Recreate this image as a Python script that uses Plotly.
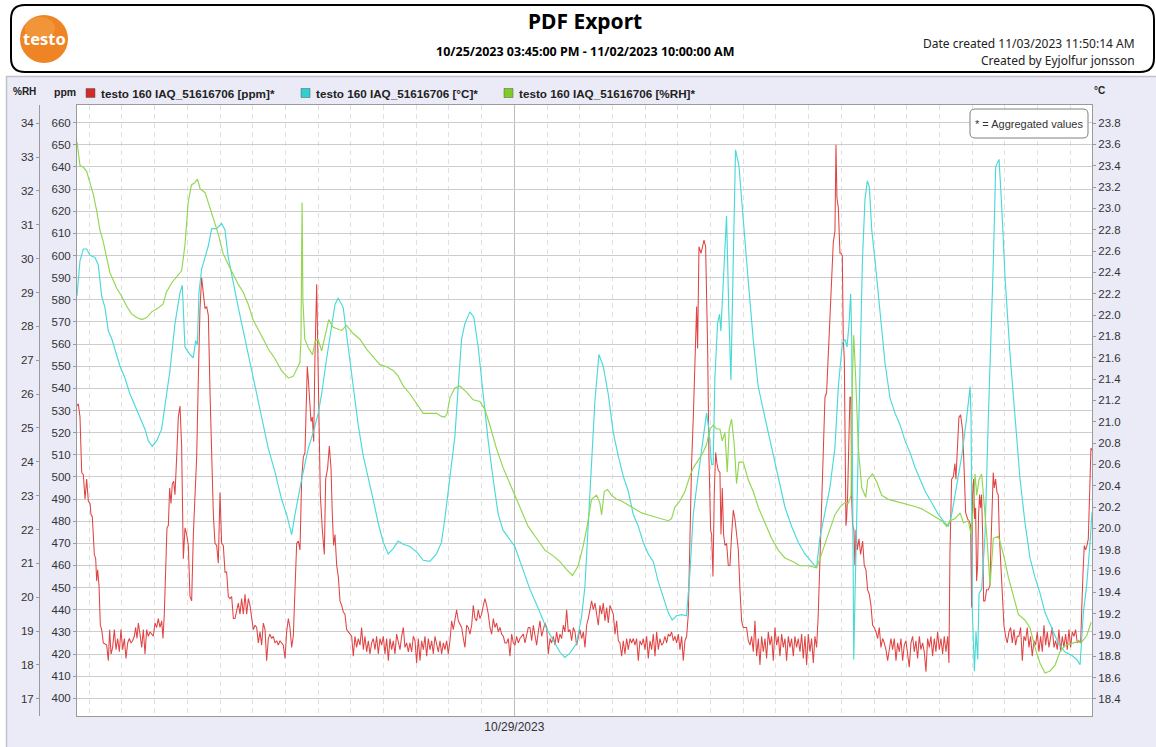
import pandas as pd
import plotly.graph_objects as go

# ---------------- data ----------------
START = pd.Timestamp("2023-10-25 15:45:00")
END = pd.Timestamp("2023-11-02 10:00:00")
LABEL_DAY = pd.Timestamp("2023-10-29 00:00:00")

series_names = ["testo 160 IAQ_51616706 [ppm]*",
                "testo 160 IAQ_51616706 [°C]*",
                "testo 160 IAQ_51616706 [%RH]*"]
series_colors = ["#e14444", "#4ad9d9", "#92d650"]
legend_colors = ["#d42a2a", "#2fd0d0", "#7fcc22"]

ppm_ticks = list(range(400, 661, 10))
temp_ticks = [18.4, 18.6, 18.8, 19.0, 19.2, 19.4, 19.6, 19.8, 20.0, 20.2, 20.4, 20.6, 20.8, 21.0,
              21.2, 21.4, 21.6, 21.8, 22.0, 22.2, 22.4, 22.6, 22.8, 23.0, 23.2, 23.4, 23.6, 23.8]
rh_ticks = [17, 18, 19, 20, 21, 22, 23, 24, 25, 26, 27, 28, 29, 30, 31, 32, 33, 34]

# (hours since start, ppm)
co2_data = [
    (0.00,532),(0.24,533),(0.55,527),(0.86,502),(1.16,501),(1.47,490),(1.77,499),(2.08,489),(2.39,488),(2.57,483),
    (2.81,482),(3.18,465),(3.43,463),(3.61,453),(3.79,458),(4.04,451),(4.28,433),(4.53,431),(4.83,425),(5.44,424),
    (5.75,417),(5.99,431),(6.24,420),(6.54,423),(6.85,431),(7.16,422),(7.46,427),(7.77,421),(8.07,431),(8.38,422),
    (8.69,427),(8.99,418),(9.30,425),(9.60,427),(9.91,425),(10.21,426),(10.52,428),(10.76,432),(11.01,427),(11.25,434),
    (11.56,429),(11.87,423),(12.17,431),(12.48,420),(12.78,431),(13.09,428),(13.39,430),(13.70,429),(14.01,428),(14.31,434),
    (14.62,432),(14.92,436),(15.23,432),(15.54,435),(15.78,427),(16.02,438),(16.27,462),(16.51,477),(16.76,478),(17.00,495),
    (17.25,488),(17.49,497),(17.74,498),(17.98,492),(18.29,509),(18.59,527),(18.90,532),(19.20,514),(19.51,463),(19.82,477),
    (20.12,474),(20.43,469),(20.73,446),(21.04,444),(21.35,474),(21.65,495),(21.96,509),(22.26,544),(22.57,576),(22.87,590),
    (23.18,583),(23.49,576),(23.79,577),(24.10,573),(24.40,539),(24.71,513),(25.02,483),(25.32,470),(25.63,469),(25.93,461),
    (26.24,493),(26.54,470),(26.85,469),(27.16,457),(27.46,457),(27.77,446),(28.07,445),(28.38,446),(28.69,436),(28.99,436),
    (29.30,440),(29.60,443),(29.91,438),(30.21,445),(30.52,438),(30.83,447),(31.13,438),(31.44,445),(31.74,442),(32.05,435),
    (32.35,431),(32.66,433),(32.97,432),(33.27,425),(33.58,430),(33.88,424),(34.19,434),(34.50,431),(34.80,417),(35.11,427),
    (35.41,429),(35.72,427),(36.02,428),(36.33,425),(36.64,426),(36.94,424),(37.25,426),(37.55,425),(37.86,424),(38.17,418),
    (38.47,430),(38.78,436),(39.08,432),(39.39,423),(39.69,428),(40.00,449),(40.31,470),(40.61,471),(40.92,467),(41.22,499),
    (41.53,509),(41.83,511),(42.02,530),(42.26,550),(42.45,544),(42.75,530),(42.94,525),(43.18,527),(43.43,516),(43.67,555),
    (43.98,587),(44.28,544),(44.65,492),(45.02,476),(45.38,465),(45.63,499),(45.99,504),(46.30,514),(46.61,504),(46.85,483),
    (47.09,469),(47.34,474),(47.65,460),(47.95,455),(48.26,444),(48.56,442),(48.87,439),(49.17,438),(49.48,431),(49.79,430),
    (50.09,429),(50.40,428),(50.70,419),(51.01,428),(51.31,423),(51.62,427),(51.93,424),(52.23,432),(52.54,422),(52.84,428),
    (53.15,421),(53.46,426),(53.76,420),(54.07,425),(54.37,427),(54.68,422),(54.98,428),(55.29,420),(55.60,427),(55.90,424),
    (56.21,428),(56.51,420),(56.82,427),(57.13,417),(57.43,427),(57.74,422),(58.04,426),(58.35,420),(58.65,429),(58.96,425),
    (59.27,422),(59.57,428),(59.88,432),(60.18,423),(60.49,425),(60.80,421),(61.10,425),(61.41,421),(61.71,428),(62.02,426),
    (62.32,416),(62.63,427),(62.94,417),(63.24,426),(63.55,422),(63.85,428),(64.16,419),(64.46,427),(64.77,422),(65.08,426),
    (65.38,420),(65.69,428),(65.99,425),(66.30,421),(66.61,426),(66.91,420),(67.22,425),(67.52,422),(67.83,426),(68.13,420),
    (68.44,426),(68.75,435),(69.05,431),(69.36,436),(69.66,440),(69.97,435),(70.28,433),(70.58,432),(70.89,427),(71.19,423),
    (71.50,433),(71.80,432),(72.11,429),(72.42,433),(72.72,442),(73.03,436),(73.33,435),(73.64,440),(73.94,436),(74.25,438),
    (74.56,442),(74.86,445),(75.17,442),(75.47,438),(75.78,432),(76.09,429),(76.39,436),(76.70,432),(77.00,434),(77.31,430),
    (77.61,432),(77.92,429),(78.23,428),(78.53,425),(78.84,425),(79.14,427),(79.45,419),(79.76,429),(80.06,425),(80.37,424),
    (80.67,428),(80.98,425),(81.28,427),(81.59,428),(81.90,429),(82.20,425),(82.51,428),(82.81,432),(83.12,432),(83.43,426),
    (83.73,433),(84.04,428),(84.34,424),(84.65,430),(84.95,435),(85.26,428),(85.57,431),(85.87,434),(86.18,432),(86.48,420),
    (86.79,427),(87.09,425),(87.40,428),(87.71,424),(88.01,430),(88.32,425),(88.62,429),(88.93,427),(89.24,433),(89.54,430),
    (89.85,440),(90.15,430),(90.46,431),(90.76,426),(91.07,432),(91.38,430),(91.68,424),(91.99,428),(92.29,431),(92.60,427),
    (92.91,430),(93.21,423),(93.52,433),(93.82,436),(94.13,440),(94.43,444),(94.74,440),(95.05,443),(95.35,438),(95.66,433),
    (95.96,442),(96.27,438),(96.57,443),(96.88,435),(97.19,441),(97.49,434),(97.80,442),(98.10,440),(98.41,438),(98.72,429),
    (99.02,435),(99.33,426),(99.63,425),(99.94,419),(100.24,426),(100.55,420),(100.86,427),(101.16,422),(101.47,427),(101.77,425),
    (102.08,427),(102.39,424),(102.69,427),(103.00,417),(103.30,426),(103.61,424),(103.91,427),(104.22,422),(104.53,428),(104.83,418),
    (105.14,426),(105.44,422),(105.75,429),(106.06,419),(106.36,430),(106.67,422),(106.97,427),(107.28,424),(107.58,425),(107.89,428),
    (108.20,425),(108.50,429),(108.81,428),(109.11,430),(109.42,426),(109.72,428),(110.03,425),(110.34,429),(110.64,422),(110.95,428),
    (111.25,417),(111.56,426),(111.87,428),(112.17,438),(112.48,474),(112.78,506),(113.09,527),(113.39,551),(113.70,577),(113.88,558),
    (114.13,604),(114.50,601),(114.74,604),(115.05,607),(115.35,604),(115.72,558),(115.96,509),(116.27,476),(116.45,474),(116.70,455),
    (116.94,493),(117.19,511),(117.43,506),(117.68,503),(117.98,502),(118.17,474),(118.41,495),(118.65,474),(118.90,469),(119.20,470),
    (119.51,460),(119.82,460),(120.12,474),(120.43,485),(120.73,481),(121.04,472),(121.35,467),(121.65,449),(121.96,435),(122.26,432),
    (122.57,432),(122.87,432),(123.18,426),(123.49,424),(123.79,428),(124.10,421),(124.40,435),(124.71,419),(125.02,427),(125.32,415),
    (125.63,428),(125.93,421),(126.24,427),(126.54,418),(126.85,430),(127.16,424),(127.46,428),(127.77,417),(128.07,432),(128.38,424),
    (128.69,428),(128.99,419),(129.30,429),(129.60,423),(129.91,427),(130.21,417),(130.52,428),(130.83,423),(131.13,427),(131.44,419),
    (131.74,428),(132.05,423),(132.35,427),(132.66,421),(132.97,429),(133.27,418),(133.58,428),(133.88,415),(134.19,429),(134.50,421),
    (134.80,427),(135.11,416),(135.41,428),(135.72,423),(136.02,438),(136.33,465),(136.64,492),(136.94,514),(137.25,536),(137.55,538),
    (137.86,555),(138.47,587),(138.78,606),(139.08,611),(139.27,650),(139.45,626),(139.69,622),(140.00,601),(140.18,601),(140.43,600),
    (140.61,562),(140.80,553),(140.98,492),(141.10,478),(141.22,481),(141.41,492),(141.65,518),(141.83,536),(142.02,536),(142.14,492),
    (142.32,478),(142.57,476),(142.75,460),(142.94,476),(143.18,467),(143.49,472),(143.79,465),(144.16,471),(144.46,460),(144.77,458),
    (145.08,449),(145.38,447),(145.69,442),(145.99,433),(146.30,432),(146.61,430),(146.91,427),(147.22,432),(147.52,423),(147.83,427),
    (148.13,425),(148.44,422),(148.75,417),(149.05,423),(149.36,427),(149.66,422),(149.97,427),(150.28,417),(150.58,425),(150.89,421),
    (151.19,427),(151.50,417),(151.80,424),(152.11,426),(152.42,419),(152.72,414),(153.03,425),(153.33,428),(153.64,421),(153.94,426),
    (154.25,418),(154.56,428),(154.86,422),(155.17,425),(155.47,421),(155.78,412),(156.09,427),(156.39,423),(156.70,428),(157.00,419),
    (157.31,427),(157.61,421),(157.92,430),(158.23,422),(158.53,427),(158.84,420),(159.14,428),(159.45,421),(159.76,428),(160.00,416),
    (160.18,465),(160.49,499),(160.80,500),(161.10,506),(161.28,499),(161.53,514),(161.83,527),(162.14,528),(162.51,521),(162.75,506),
    (163.06,484),(163.43,481),(163.73,480),(163.98,478),(164.16,441),(164.34,492),(164.53,499),(164.71,481),(164.89,486),(165.08,453),
    (165.26,460),(165.44,483),(165.63,492),(165.81,486),(165.99,492),(166.18,474),(166.36,444),(166.61,444),(166.91,449),(167.22,449),
    (167.52,451),(167.71,469),(167.95,492),(168.13,502),(168.32,495),(168.56,499),(168.81,493),(169.05,492),(169.24,474),(169.48,463),
    (169.79,447),(170.09,433),(170.40,428),(170.70,425),(171.01,430),(171.32,432),(171.62,425),(171.93,431),(172.23,424),(172.54,428),
    (172.84,428),(173.15,432),(173.46,417),(173.76,428),(174.07,426),(174.37,432),(174.68,423),(174.98,428),(175.29,419),(175.60,426),
    (175.90,424),(176.21,430),(176.51,421),(176.82,428),(177.13,421),(177.43,433),(177.74,424),(178.04,430),(178.35,423),(178.65,428),
    (178.96,432),(179.27,423),(179.57,426),(179.88,422),(180.18,431),(180.49,421),(180.80,428),(181.10,423),(181.41,429),(181.71,422),
    (182.02,431),(182.32,423),(182.63,430),(182.94,428),(183.24,431),(183.55,425),(183.85,426),(184.16,425),(184.34,442),(184.59,456),
    (184.83,469),(185.08,467),(185.32,469),(185.57,472),(185.81,492),(186.06,513),(186.25,512),
]

# (hours since start, °C)
temp_data = [
    (0.0,22.18),(0.55,22.51),(1.16,22.62),(1.77,22.62),(2.38,22.56),(3.3,22.54),(3.91,22.47),(4.52,22.18),(5.13,22.07),
    (5.75,21.85),(6.36,21.78),(6.97,21.67),(7.89,21.52),(8.8,21.41),(9.72,21.26),(10.64,21.15),(11.56,21.04),(12.47,20.93),
    (13.09,20.82),(13.82,20.77),(14.61,20.82),(15.53,20.93),(16.14,21.15),(17.06,21.48),(17.98,21.92),(18.9,22.21),(19.32,22.28),
    (19.81,21.70),(20.73,21.63),(21.34,21.60),(21.77,21.76),(22.08,21.72),(22.38,22.21),(22.87,22.43),(23.48,22.54),(24.1,22.65),
    (24.71,22.81),(25.62,22.81),(26.54,22.86),(27.15,22.80),(27.76,22.54),(28.68,22.29),(29.6,22.07),(30.52,21.85),(31.43,21.63),
    (32.66,21.34),(33.88,21.04),(35.1,20.75),(36.33,20.53),(37.55,20.27),(38.47,20.13),(39.39,19.94),(40.0,20.13),(41.22,20.46),
    (42.44,20.75),(43.36,20.90),(44.28,21.08),(44.89,21.26),(45.8,21.59),(46.73,21.89),(47.34,22.10),(47.93,22.16),(48.85,22.07),
    (49.76,21.70),(50.68,21.33),(51.6,20.97),(52.52,20.68),(53.43,20.46),(54.35,20.27),(55.27,20.05),(56.19,19.87),(57.1,19.76),
    (58.02,19.81),(58.94,19.88),(59.86,19.85),(61.08,19.83),(62.3,19.78),(63.53,19.70),(64.75,19.69),(65.97,19.76),(66.89,19.87),
    (67.5,20.09),(68.42,20.46),(69.34,20.86),(69.95,21.33),(70.56,21.77),(71.17,21.92),(72.09,22.03),(72.82,21.98),(73.62,21.70),
    (74.53,21.26),(75.45,20.82),(76.37,20.46),(77.29,20.13),(78.2,19.98),(79.12,19.92),(80.34,19.83),(81.57,19.65),(83.1,19.43),
    (84.63,19.25),(86.16,19.06),(87.38,18.95),(88.6,18.84),(89.52,18.79),(90.44,18.83),(91.66,18.92),(92.58,19.17),(93.2,19.45),
    (94.12,20.31),(95.03,21.19),(95.77,21.63),(96.56,21.52),(97.48,21.26),(98.4,20.90),(99.32,20.68),(100.23,20.49),(101.15,20.35),
    (102.07,20.13),(102.99,20.02),(103.9,19.87),(104.82,19.76),(105.74,19.69),(106.66,19.50),(107.57,19.36),(108.49,19.21),
    (109.22,19.14),(110.02,19.18),(110.94,19.19),(111.85,19.18),(112.47,19.58),(113.08,20.13),(113.69,20.38),(114.3,20.60),
    (114.91,20.82),(115.52,21.08),(115.95,20.93),(116.44,20.60),(116.74,20.60),(117.05,21.41),(117.54,21.92),(117.91,22.01),
    (118.15,21.85),(118.58,22.32),(119.19,22.93),(119.62,22.00),(119.99,21.39),(120.42,22.51),(120.84,23.55),(121.46,23.40),
    (122.25,22.87),(123.17,22.32),(124.09,21.77),(125.0,21.33),(126.23,21.04),(127.45,20.75),(128.67,20.46),(129.9,20.20),
    (131.12,20.02),(132.34,19.87),(133.57,19.76),(134.79,19.69),(135.71,19.63),(136.32,19.91),(137.24,20.13),(138.15,20.38),
    (139.07,20.75),(139.71,21.33),(140.45,21.74),(140.94,21.77),(141.3,21.70),(141.67,21.92),(141.97,22.20),(142.16,21.77),
    (142.34,20.31),(142.53,18.77),(142.77,19.39),(143.26,20.49),(143.69,21.40),(144.12,22.51),(144.6,23.09),(145.03,23.26),
    (145.4,23.20),(145.83,22.80),(146.44,22.51),(147.36,22.00),(148.27,21.55),(149.19,21.22),(150.11,21.08),(151.03,20.97),
    (151.94,20.82),(152.86,20.71),(153.78,20.57),(154.7,20.46),(155.61,20.35),(156.84,20.24),(158.06,20.13),(159.28,20.05),
    (159.9,20.02),(160.51,20.13),(161.43,20.42),(162.35,20.68),(163.26,21.04),(163.88,21.33),(164.06,21.04),(164.3,19.21),
    (164.67,18.66),(164.97,19.03),(165.28,18.77),(165.52,19.39),(166.01,19.43),(166.62,19.94),(167.23,21.04),(167.72,21.77),
    (168.15,22.51),(168.58,23.39),(169.19,23.46),(169.68,23.02),(170.29,22.36),(171.21,21.63),(172.13,21.08),(173.05,20.46),
    (173.96,20.05),(174.88,19.72),(175.8,19.54),(176.72,19.39),(177.63,19.21),(178.86,19.06),(180.08,18.92),(181.3,18.84),
    (182.53,18.81),(183.45,18.77),(184.06,18.72),(184.67,19.21),(185.28,19.47),(185.9,19.87),(186.25,20.15),
]

# (hours since start, %RH)
rh_data = [
    (0.0,33.45),(0.55,32.75),(1.16,32.70),(1.77,32.58),(2.38,32.24),(3.0,31.89),(3.6,31.43),(4.2,30.85),(4.8,30.51),
    (5.4,30.04),(6.05,29.58),(6.7,29.35),(7.3,29.12),(8.2,28.89),(9.1,28.60),(10.0,28.37),(10.95,28.26),(11.9,28.20),
    (12.8,28.26),(13.7,28.43),(14.9,28.54),(15.8,28.66),(16.4,29.01),(17.4,29.29),(18.3,29.47),(19.2,29.64),(19.8,30.39),
    (20.4,31.66),(21.0,32.18),(21.6,32.24),(22.1,32.35),(22.6,32.06),(23.5,31.95),(24.4,31.54),(25.0,31.20),(25.9,30.74),
    (26.8,30.16),(27.8,29.81),(28.7,29.52),(29.6,29.24),(30.5,29.01),(31.4,28.66),(32.3,28.20),(33.3,27.91),(34.2,27.62),
    (35.1,27.33),(36.3,27.05),(37.5,26.70),(38.8,26.47),(39.7,26.53),(40.5,26.81),(40.9,26.93),(41.1,27.62),(41.3,31.66),
    (41.45,28.77),(41.8,27.62),(42.4,27.39),(43.2,27.16),(43.7,27.56),(44.2,27.62),(44.9,27.28),(45.5,27.74),(46.2,28.20),
    (47.0,27.97),(48.54,27.88),(49.46,28.03),(50.68,27.79),(51.9,27.62),(53.13,27.33),(54.35,27.10),(55.57,26.87),(56.8,26.81),
    (58.02,26.70),(58.94,26.53),(59.86,26.24),(61.08,26.01),(62.3,25.72),(63.53,25.43),(64.75,25.43),(65.97,25.43),(66.89,25.34),
    (67.5,25.32),(67.93,25.43),(68.42,25.89),(69.34,26.18),(70.25,26.24),(71.48,26.06),(72.7,25.83),(73.92,25.78),(74.84,25.55),
    (75.76,25.08),(76.98,24.39),(78.2,23.82),(79.73,23.24),(81.26,22.66),(82.79,22.09),(84.32,21.74),(85.85,21.39),(87.38,21.22),
    (88.6,21.05),(89.82,20.82),(90.93,20.64),(91.97,20.93),(92.88,21.51),(93.6,22.09),(94.42,22.89),(95.34,23.01),(95.95,22.78),
    (96.26,22.43),(96.75,23.12),(97.36,23.18),(98.09,23.01),(99.01,22.89),(99.93,22.84),(101.15,22.72),(102.37,22.61),(103.6,22.49),
    (104.82,22.43),(106.04,22.37),(107.27,22.32),(108.49,22.26),(109.1,22.32),(109.71,22.66),(110.63,22.84),(111.55,23.12),
    (112.47,23.58),(113.08,23.82),(114.0,24.05),(114.91,24.28),(115.52,24.51),(116.14,24.97),(116.75,25.08),(117.36,24.97),
    (117.97,24.97),(118.4,24.62),(118.89,24.86),(119.32,23.70),(119.68,24.97),(120.11,25.26),(120.6,24.51),(121.03,23.35),
    (121.46,23.99),(122.25,23.99),(123.17,23.47),(124.09,23.12),(125.0,22.66),(126.23,22.20),(127.45,21.74),(128.67,21.39),
    (129.9,21.16),(131.43,21.05),(132.65,20.93),(134.18,20.93),(135.71,20.87),(136.63,21.28),(137.85,21.85),(139.07,22.43),
    (140.0,22.66),(140.93,22.80),(141.55,22.78),(142.04,23.01),(142.28,26.47),(142.53,27.74),(142.89,26.47),(143.38,24.39),
    (143.99,23.24),(144.73,22.95),(145.09,23.47),(145.95,23.64),(146.74,23.41),(147.66,23.01),(148.89,22.89),(150.11,22.84),
    (151.33,22.78),(152.56,22.72),(153.78,22.68),(155.0,22.61),(156.23,22.49),(157.45,22.37),(158.67,22.26),(159.59,22.09),
    (160.2,22.26),(161.12,22.32),(162.04,22.49),(162.65,22.20),(163.56,22.26),(164.06,21.85),(164.49,22.66),(164.79,23.64),
    (165.1,23.01),(165.52,23.47),(166.01,23.64),(166.5,22.66),(166.93,21.85),(167.54,20.35),(168.15,21.74),(169.07,21.80),
    (169.98,21.28),(170.9,20.59),(171.82,20.01),(172.74,19.49),(173.96,19.32),(174.88,19.09),(175.8,18.51),(176.72,18.05),
    (177.63,17.76),(178.55,17.82),(179.47,17.99),(180.39,18.40),(181.3,18.57),(182.53,18.63),(183.45,18.68),(184.37,18.68),
    (185.28,18.86),(186.1,19.26),
]


def to_time(hours):
    return START + pd.to_timedelta(hours, unit="h")


co2_x = to_time([h for h, _ in co2_data]); co2_y = [v for _, v in co2_data]
temp_x = to_time([h for h, _ in temp_data]); temp_y = [v for _, v in temp_data]
rh_x = to_time([h for h, _ in rh_data]); rh_y = [v for _, v in rh_data]

# ---------------- layout helpers ----------------
W, H = 1156, 747


def px(x):
    return x / W


def py(y):
    return 1 - y / H


def rrect(x0, y0, x1, y1, r):
    X = lambda v: f"{px(v):.5f}"
    Y = lambda v: f"{py(v):.5f}"
    return (f"M {X(x0 + r)},{Y(y0)} L {X(x1 - r)},{Y(y0)} Q {X(x1)},{Y(y0)} {X(x1)},{Y(y0 + r)} "
            f"L {X(x1)},{Y(y1 - r)} Q {X(x1)},{Y(y1)} {X(x1 - r)},{Y(y1)} L {X(x0 + r)},{Y(y1)} "
            f"Q {X(x0)},{Y(y1)} {X(x0)},{Y(y1 - r)} L {X(x0)},{Y(y0 + r)} Q {X(x0)},{Y(y0)} {X(x0 + r)},{Y(y0)} Z")


fig = go.Figure()
fig.add_trace(go.Scatter(x=co2_x, y=co2_y, mode="lines", name=series_names[0],
                         line=dict(color=series_colors[0], width=1.05), yaxis="y"))
fig.add_trace(go.Scatter(x=temp_x, y=temp_y, mode="lines", name=series_names[1],
                         line=dict(color=series_colors[1], width=1.15), yaxis="y2"))
fig.add_trace(go.Scatter(x=rh_x, y=rh_y, mode="lines", name=series_names[2],
                         line=dict(color=series_colors[2], width=1.15), yaxis="y3"))

AX_LINE = "#9a9a9a"
TICK_FONT = dict(family="Liberation Sans, Arial, sans-serif", size=11.5, color="#333333")

shapes = [
    dict(type="rect", xref="paper", yref="paper", x0=0, x1=1, y0=py(76), y1=1,
         fillcolor="white", line=dict(width=0), layer="below"),
    dict(type="rect", xref="paper", yref="paper", x0=0, x1=px(6), y0=0, y1=py(76),
         fillcolor="white", line=dict(width=0), layer="below"),
    dict(type="line", xref="paper", yref="paper", x0=px(6), x1=1, y0=py(76.5), y1=py(76.5),
         line=dict(color="#c2c2ca", width=1.5), layer="below"),
    dict(type="line", xref="paper", yref="paper", x0=px(6.5), x1=px(6.5), y0=0, y1=py(76),
         line=dict(color="#c2c2ca", width=1.5), layer="below"),
    dict(type="path", xref="paper", yref="paper", path=rrect(11, 5, 1154, 72, 14),
         fillcolor="white", line=dict(color="black", width=2), layer="below"),
    dict(type="circle", xref="paper", yref="paper", x0=px(20), x1=px(68), y0=py(63), y1=py(15),
         fillcolor="#ee8424", line=dict(width=0), layer="below"),
    dict(type="circle", xref="paper", yref="paper", x0=px(25), x1=px(55), y0=py(40), y1=py(17),
         fillcolor="#f7ab55", opacity=0.45, line=dict(width=0), layer="below"),
    dict(type="path", xref="paper", yref="paper", path=rrect(970, 109, 1088, 138, 5),
         fillcolor="white", line=dict(color="#808080", width=1), layer="above"),
]

legend_sq_x = [86, 301, 504]
legend_txt_x = [99, 314, 517]
for c, sx in zip(legend_colors, legend_sq_x):
    shapes.append(dict(type="rect", xref="paper", yref="paper", x0=px(sx), x1=px(sx + 9),
                       y0=py(97.5), y1=py(88.5), fillcolor=c, line=dict(color="#555555", width=0.5)))

annotations = [
    dict(x=px(585), y=py(21), text="<b>PDF Export</b>", font=dict(family="Noto Sans", size=21, color="black")),
    dict(x=px(585), y=py(52), text="<b>10/25/2023 03:45:00 PM - 11/02/2023 10:00:00 AM</b>",
         font=dict(family="Noto Sans", size=12.5, color="black")),
    dict(x=px(1137), y=py(43), xanchor="right", text="Date created 11/03/2023 11:50:14 AM",
         font=dict(family="Noto Sans", size=12, color="#222222")),
    dict(x=px(1137), y=py(60), xanchor="right", text="Created by Eyjolfur jonsson",
         font=dict(family="Noto Sans", size=12, color="#222222")),
    dict(x=px(44.5), y=py(39), text="<b>testo</b>", font=dict(family="Noto Sans", size=16.5, color="white")),
    dict(x=px(25), y=py(92), text="<b>%RH</b>", font=dict(family="Liberation Sans", size=10, color="#222222")),
    dict(x=px(65), y=py(92), text="<b>ppm</b>", font=dict(family="Liberation Sans", size=10.5, color="#222222")),
    dict(x=px(1099), y=py(91), text="<b>°C</b>", font=dict(family="Liberation Sans", size=10, color="#222222")),
    dict(x=px(1029), y=py(124), text="* = Aggregated values",
         font=dict(family="Liberation Sans", size=11, color="#333333")),
]
for name, tx in zip(series_names, legend_txt_x):
    annotations.append(dict(x=px(tx), y=py(93), xanchor="left", text=f"<b>{name}</b>",
                            font=dict(family="Liberation Sans", size=11.7, color="#222222")))
for a in annotations:
    a.update(xref="paper", yref="paper", showarrow=False)
    a.setdefault("yanchor", "middle")
    a.setdefault("xanchor", "center")

fig.update_layout(
    template="none",
    width=W, height=H,
    margin=dict(l=0, r=0, t=0, b=0),
    paper_bgcolor="#ebebf8",
    plot_bgcolor="white",
    showlegend=False,
    font=dict(family="Liberation Sans, Arial, sans-serif", size=11, color="#333333"),
    xaxis=dict(
        domain=[px(77), px(1092)], type="date", range=[START, END],
        tickmode="array", tickvals=[LABEL_DAY], ticktext=["10/29/2023"],
        ticks="", showgrid=True, gridcolor="#bcbcbc", gridwidth=1.2,
        showline=True, linecolor=AX_LINE, linewidth=1, mirror=True, zeroline=False,
        tickfont=dict(family="Liberation Sans, Arial, sans-serif", size=12, color="#333333"),
        automargin=False,
        minor=dict(dtick=6 * 3600 * 1000, tick0="2023-10-25 00:00:00", showgrid=True,
                   gridcolor="#e0e0e0", gridwidth=1, griddash="5px,4px", ticks=""),
    ),
    yaxis=dict(
        domain=[1 - 716 / H, 1 - 105 / H], range=[392, 668],
        tickmode="array", tickvals=ppm_ticks, ticktext=[str(v) for v in ppm_ticks],
        ticks="outside", ticklen=3, tickcolor=AX_LINE,
        showgrid=True, gridcolor="#cdcdcd", gridwidth=1.2,
        showline=True, linecolor=AX_LINE, linewidth=1, zeroline=False,
        tickfont=TICK_FONT, automargin=False,
    ),
    yaxis2=dict(
        overlaying="y", side="right", anchor="x", range=[18.24, 23.97],
        tickmode="array", tickvals=temp_ticks, ticktext=[f"{v:.1f}" for v in temp_ticks],
        ticks="outside", ticklen=3, tickcolor=AX_LINE, showgrid=False,
        showline=True, linecolor=AX_LINE, linewidth=1, zeroline=False,
        tickfont=TICK_FONT, automargin=False,
    ),
    yaxis3=dict(
        overlaying="y", side="left", anchor="free", position=px(39), range=[16.49, 34.54],
        tickmode="array", tickvals=rh_ticks, ticktext=[str(v) for v in rh_ticks],
        ticks="outside", ticklen=3, tickcolor=AX_LINE, showgrid=False,
        showline=True, linecolor=AX_LINE, linewidth=1, zeroline=False,
        tickfont=TICK_FONT, automargin=False,
    ),
    shapes=shapes,
    annotations=annotations,
)

fig.write_html("out.html", config={"displayModeBar": False})
